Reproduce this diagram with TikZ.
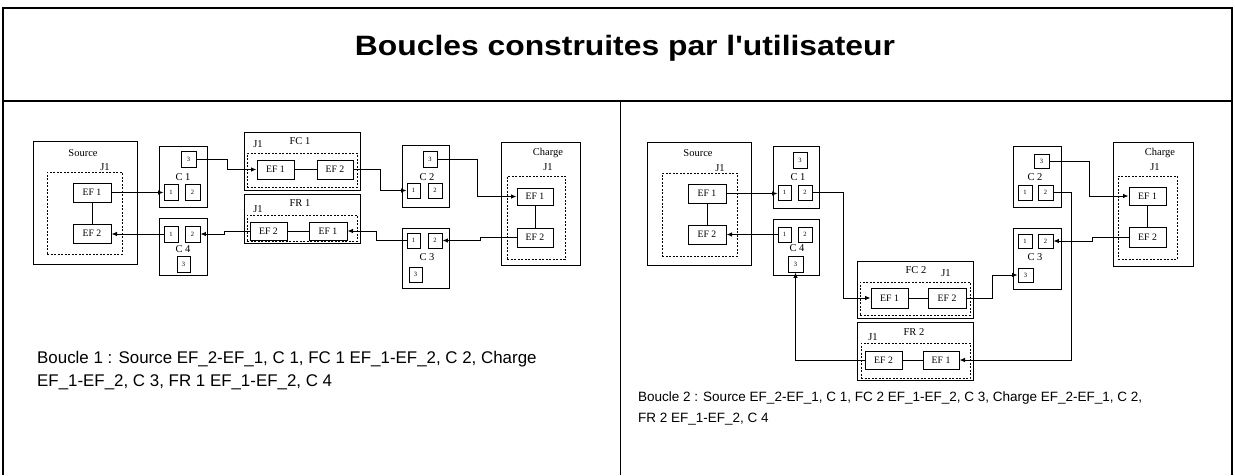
\documentclass[tikz,border=0pt]{standalone}
\usepackage{fontspec}
\setmainfont{Liberation Serif}
\newfontfamily\hsans{Liberation Sans}
\usetikzlibrary{arrows.meta}
\newcommand\mkbox[6]{\node[#1,minimum width=#4,minimum height=#5] (#2) at (#3) {#6};}
\tikzset{
  frame/.style={line width=1.4pt},
  box/.style={draw, line width=1pt, inner sep=0pt},
  dbox/.style={draw, line width=1pt, dash pattern=on 2pt off 1.5pt, inner sep=0pt},
  ef/.style={draw, line width=1pt, inner sep=0pt, font=\fontsize{9.8}{11}\selectfont},
  port/.style={draw, line width=0.9pt, inner sep=0pt, font=\fontsize{6.5}{7}\selectfont},
  lbl/.style={inner sep=0pt, font=\fontsize{10.5}{12}\selectfont},
  wire/.style={line width=0.9pt},
  arr/.style={wire, -{Latex[length=5.5pt,width=4.5pt]}},
  txtl/.style={inner sep=0pt, anchor=base west, font=\hsans\fontsize{16.9}{20}\selectfont},
  txtr/.style={inner sep=0pt, anchor=base west, font=\hsans\fontsize{13.5}{16}\selectfont}
}
\begin{document}
\begin{tikzpicture}[x=1pt,y=-1pt]
\useasboundingbox (0,0) rectangle (1235,475);
% frame
\draw[frame] (3,475) -- (3,8) -- (1232,8) -- (1232,475);
\draw[frame] (3,101) -- (1232,101);
\draw[line width=0.8pt] (620,101) -- (620,475);
\node[inner sep=0pt, anchor=base, font=\hsans\bfseries\fontsize{28}{32}\selectfont] (title) at (625,55) {\scalebox{1.137}[1]{Boucles construites par l'utilisateur}};

% ================= LEFT =================
\mkbox{box}{lsrc}{85,202.5}{104}{123}{}
\node[lbl] (lsrcl) at (83,153) {Source};
\mkbox{dbox}{lsrcj}{84.5,213}{75}{82}{}
\node[lbl] (lsrcjl) at (105,167) {J1};
\mkbox{ef}{lsef1}{92,192.5}{38}{19}{EF 1}
\mkbox{ef}{lsef2}{92,233.5}{38}{19}{EF 2}

\mkbox{box}{lc1}{183,176.5}{48}{61}{}
\mkbox{port}{lc1p3}{188.5,159}{15}{16}{3}
\node[lbl] (lc1l) at (183,177) {C 1};
\mkbox{port}{lc1p1}{171,192}{14}{16}{1}
\mkbox{port}{lc1p2}{192.5,192}{15}{16}{2}

\mkbox{box}{lc4}{183,246.5}{48}{57}{}
\mkbox{port}{lc4p1}{171,234}{14}{16}{1}
\mkbox{port}{lc4p2}{192.5,234}{15}{16}{2}
\node[lbl] (lc4l) at (183,249) {C 4};
\mkbox{port}{lc4p3}{183.5,264}{13}{16}{3}

\mkbox{box}{lfc}{302,161}{116}{58}{}
\node[lbl] (lfcl) at (300,141) {FC 1};
\node[lbl] (lfcj) at (258,144) {J1};
\mkbox{dbox}{lfcd}{302,170}{110}{34}{}
\mkbox{ef}{lfcef1}{275.5,169.5}{37}{19}{EF 1}
\mkbox{ef}{lfcef2}{335,169.5}{36}{19}{EF 2}

\mkbox{box}{lfr}{302,218.5}{116}{49}{}
\node[lbl] (lfrl) at (300,203) {FR 1};
\node[lbl] (lfrj) at (258,209) {J1};
\mkbox{dbox}{lfrd}{302,228}{110}{26}{}
\mkbox{ef}{lfref2}{268.5,231}{37}{18}{EF 2}
\mkbox{ef}{lfref1}{328,231}{38}{18}{EF 1}

\mkbox{box}{lc2}{425.5,176}{47}{62}{}
\mkbox{port}{lc2p3}{430,159}{14}{16}{3}
\node[lbl] (lc2l) at (427,177) {C 2};
\mkbox{port}{lc2p1}{413.5,190.5}{13}{15}{1}
\mkbox{port}{lc2p2}{435,190.5}{14}{15}{2}

\mkbox{box}{lc3}{425.5,258}{47}{60}{}
\mkbox{port}{lc3p1}{413.5,240.5}{13}{15}{1}
\mkbox{port}{lc3p2}{435,240.5}{14}{15}{2}
\node[lbl] (lc3l) at (427,257) {C 3};
\mkbox{port}{lc3p3}{415.5,274.5}{13}{15}{3}

\mkbox{box}{lch}{540.5,203.5}{79}{123}{}
\node[lbl] (lchl) at (548,153) {Charge};
\node[lbl] (lchj) at (548,167) {J1};
\mkbox{dbox}{lchd}{536,217.5}{58}{83}{}
\mkbox{ef}{lchef1}{535,196.5}{36}{17}{EF 1}
\mkbox{ef}{lchef2}{535,237.5}{36}{19}{EF 2}

% left connectors
\draw[wire] (lsef1.south) -- (lsef2.north);
\draw[arr] (lsef1.east) -- (lsef1.east -| lc1p1.west);
\draw[arr] (lc1p3.east) -- ++(31,0) |- (lfcef1.west);
\draw[wire] (lfcef1.east) -- (lfcef2.west);
\draw[arr] (lfcef2.east) -- ++(27,0) |- (lc2p1.west);
\draw[arr] (lc2p3.east) -- ++(40,0) |- (lchef1.west);
\draw[wire] (lchef1.south) -- (lchef2.north);
\draw[arr] (lchef2.west) -- ++(-36,0) |- (lc3p2.east);
\draw[arr] (lc3p1.west) -- ++(-30,0) |- (lfref1.east);
\draw[wire] (lfref1.west) -- (lfref2.east);
\draw[arr] (lfref2.west) -- ++(-25,0) |- (lc4p2.east);
\draw[arr] (lc4p1.west) -- (lc4p1.west -| lsef2.east);

\node[txtl] (ltext1) at (37,363) {Boucle 1 : Source EF\_2-EF\_1, C 1, FC 1 EF\_1-EF\_2, C 2, Charge};
\node[txtl] (ltext2) at (37,386) {EF\_1-EF\_2, C 3, FR 1 EF\_1-EF\_2, C 4};

% ================= RIGHT =================
\mkbox{box}{rsrc}{699,203.5}{104}{123}{}
\node[lbl] (rsrcl) at (698,153) {Source};
\mkbox{dbox}{rsrcj}{699.5,214.5}{75}{83}{}
\node[lbl] (rsrcjl) at (720,168) {J1};
\mkbox{ef}{rsef1}{707,193.5}{38}{19}{EF 1}
\mkbox{ef}{rsef2}{707,234.5}{38}{19}{EF 2}

\mkbox{box}{rc1}{796,177}{46}{62}{}
\mkbox{port}{rc1p3}{800,160}{14}{16}{3}
\node[lbl] (rc1l) at (798,177) {C 1};
\mkbox{port}{rc1p1}{784.5,192.5}{13}{15}{1}
\mkbox{port}{rc1p2}{805,192.5}{14}{15}{2}

\mkbox{box}{rc4}{796,247}{46}{56}{}
\mkbox{port}{rc4p1}{784.5,234.5}{13}{15}{1}
\mkbox{port}{rc4p2}{805,234.5}{14}{15}{2}
\node[lbl] (rc4l) at (797,248) {C 4};
\mkbox{port}{rc4p3}{795.5,264}{15}{16}{3}

\mkbox{box}{rfc}{915,289.5}{116}{57}{}
\node[lbl] (rfcl) at (916,270) {FC 2};
\node[lbl] (rfcj) at (946,273) {J1};
\mkbox{dbox}{rfcd}{915,298.5}{110}{33}{}
\mkbox{ef}{rfcef1}{889.5,298}{37}{20}{EF 1}
\mkbox{ef}{rfcef2}{947,298}{38}{20}{EF 2}

\mkbox{box}{rfr}{915,351}{116}{58}{}
\node[lbl] (rfrl) at (914,332) {FR 2};
\node[lbl] (rfrj) at (873,337) {J1};
\mkbox{dbox}{rfrd}{915.5,360.5}{109}{35}{}
\mkbox{ef}{rfref2}{883.5,360}{37}{18}{EF 2}
\mkbox{ef}{rfref1}{941,360}{36}{18}{EF 1}

\mkbox{box}{rc2}{1037,176.5}{48}{61}{}
\mkbox{port}{rc2p3}{1041.5,161}{15}{14}{3}
\node[lbl] (rc2l) at (1035,177) {C 2};
\mkbox{port}{rc2p1}{1025,192.5}{14}{15}{1}
\mkbox{port}{rc2p2}{1045.5,192.5}{15}{15}{2}

\mkbox{box}{rc3}{1037,258.5}{48}{61}{}
\mkbox{port}{rc3p1}{1025,241}{14}{14}{1}
\mkbox{port}{rc3p2}{1045.5,241}{15}{14}{2}
\node[lbl] (rc3l) at (1035,257) {C 3};
\mkbox{port}{rc3p3}{1025.5,275}{15}{14}{3}

\mkbox{box}{rch}{1153,204}{80}{124}{}
\node[lbl] (rchl) at (1160,153) {Charge};
\node[lbl] (rchj) at (1155,167) {J1};
\mkbox{dbox}{rchd}{1147.5,217.5}{59}{83}{}
\mkbox{ef}{rchef1}{1147.5,196}{37}{18}{EF 1}
\mkbox{ef}{rchef2}{1147.5,237}{37}{20}{EF 2}

% right connectors
\draw[wire] (rsef1.south) -- (rsef2.north);
\draw[arr] (rsef1.east) -- (rsef1.east -| rc1p1.west);
\draw[arr] (rc4p1.west) -- (rc4p1.west -| rsef2.east);
\draw[arr] (rc1p2.east) -- ++(31,0) |- (rfcef1.west);
\draw[wire] (rfcef1.east) -- (rfcef2.west);
\draw[arr] (rfcef2.east) -- ++(26,0) |- (rc3p3.west);
\draw[arr] (rc2p3.east) -- ++(40,0) |- (rchef1.west);
\draw[wire] (rchef1.south) -- (rchef2.north);
\draw[arr] (rchef2.west) -- ++(-36,0) |- (rc3p2.east);
\draw[arr] (rc2p2.east) -- ++(18,0) |- (rfref1.east);
\draw[wire] (rfref1.west) -- (rfref2.east);
\draw[arr] (rfref2.west) -| (rc4p3.south);

\node[txtr] (rtext1) at (638,401) {Boucle 2 : Source EF\_2-EF\_1, C 1, FC 2 EF\_1-EF\_2, C 3, Charge EF\_2-EF\_1, C 2,};
\node[txtr] (rtext2) at (638,422) {FR 2 EF\_1-EF\_2, C 4};
\end{tikzpicture}
\end{document}
